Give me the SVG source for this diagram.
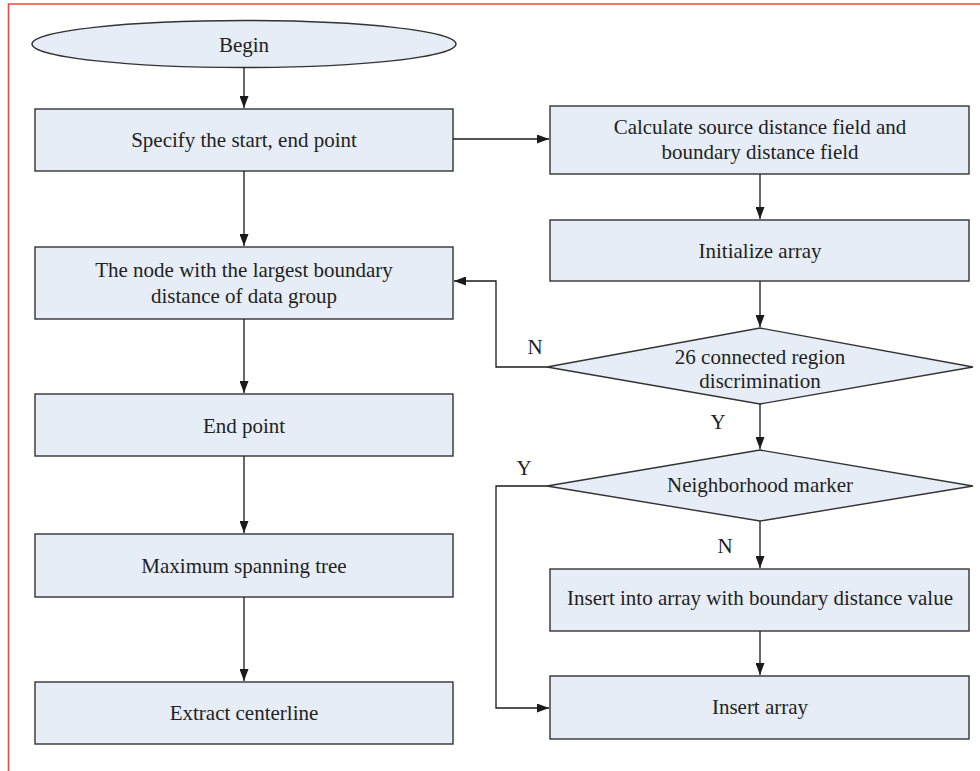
<svg xmlns="http://www.w3.org/2000/svg" width="980" height="771" viewBox="0 0 980 771">
<defs>
<marker id="arr" markerWidth="12" markerHeight="9" refX="12" refY="4.5" orient="auto" markerUnits="userSpaceOnUse">
<path d="M0,0 L12,4.5 L0,9 Z" fill="#1a1a1a"/>
</marker>
</defs>
<style>
.n{fill:#e6edf7;stroke:#333;stroke-width:1.4}
.t{font-family:"Liberation Serif","Times New Roman",serif;font-size:21px;fill:#222;text-anchor:middle;dominant-baseline:central}
.c{fill:none;stroke:#1a1a1a;stroke-width:1.3}
</style>
<rect width="980" height="771" fill="#fff"/>
<path d="M8.5,771 V4 H980" fill="none" stroke="#e8493f" stroke-width="1.6"/>
<g id="begin"><ellipse class="n" cx="244" cy="44" rx="212" ry="23.5"/><text class="t" x="244" y="45">Begin</text></g>
<g id="specify"><rect class="n" x="35" y="109" width="418" height="62"/><text class="t" x="244" y="140">Specify the start, end point</text></g>
<g id="largest"><rect class="n" x="35" y="247" width="418" height="72"/><text class="t" x="244" y="270">The node with the largest boundary</text><text class="t" x="244" y="296">distance of data group</text></g>
<g id="endpoint"><rect class="n" x="35" y="394" width="418" height="62"/><text class="t" x="244" y="426">End point</text></g>
<g id="mst"><rect class="n" x="35" y="534" width="418" height="63"/><text class="t" x="244" y="566">Maximum spanning tree</text></g>
<g id="extract"><rect class="n" x="35" y="682" width="418" height="62"/><text class="t" x="244" y="713">Extract centerline</text></g>
<g id="calc"><rect class="n" x="550" y="106" width="419" height="68"/><text class="t" x="760" y="127">Calculate source distance field and</text><text class="t" x="760" y="152">boundary distance field</text></g>
<g id="init"><rect class="n" x="550" y="220" width="419" height="61"/><text class="t" x="760" y="251">Initialize array</text></g>
<g id="d26"><polygon class="n" points="760,328 973,367 760,404 547,367"/><text class="t" x="760" y="357">26 connected region</text><text class="t" x="760" y="381">discrimination</text></g>
<g id="neigh"><polygon class="n" points="760,450 973,486 760,521 547,486"/><text class="t" x="760" y="485">Neighborhood marker</text></g>
<g id="insertval"><rect class="n" x="550" y="569" width="419" height="62"/><text class="t" x="760" y="598">Insert into array with boundary distance value</text></g>
<g id="insert"><rect class="n" x="550" y="676" width="419" height="63"/><text class="t" x="760" y="707">Insert array</text></g>
<g id="connectors">
<path class="c" d="M244,67.5 V108" marker-end="url(#arr)"/>
<path class="c" d="M244,171 V246" marker-end="url(#arr)"/>
<path class="c" d="M244,319 V393" marker-end="url(#arr)"/>
<path class="c" d="M244,456 V533" marker-end="url(#arr)"/>
<path class="c" d="M244,597 V681" marker-end="url(#arr)"/>
<path class="c" d="M453,139 H549" marker-end="url(#arr)"/>
<path class="c" d="M760,174 V219" marker-end="url(#arr)"/>
<path class="c" d="M760,281 V327" marker-end="url(#arr)"/>
<path class="c" d="M547,367 H496 V281 H454" marker-end="url(#arr)"/>
<path class="c" d="M760,404 V449" marker-end="url(#arr)"/>
<path class="c" d="M547,486 H496 V708 H549" marker-end="url(#arr)"/>
<path class="c" d="M760,521 V568" marker-end="url(#arr)"/>
<path class="c" d="M760,631 V675" marker-end="url(#arr)"/>
<text class="t" x="535" y="347">N</text>
<text class="t" x="718" y="422">Y</text>
<text class="t" x="524" y="468">Y</text>
<text class="t" x="725" y="546">N</text>
</g>
</svg>
